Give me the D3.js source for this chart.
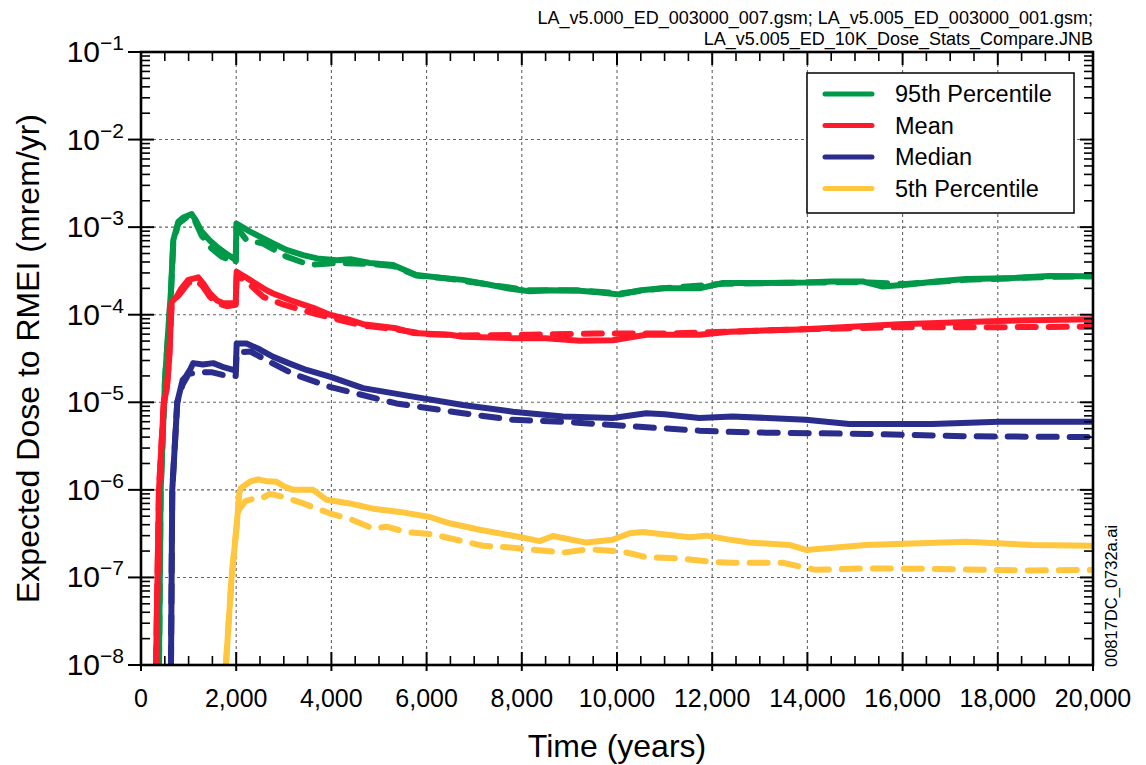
<!DOCTYPE html>
<html><head><meta charset="utf-8">
<script src="https://cdn.jsdelivr.net/npm/d3@7"></script>
<style>body{margin:0;background:#fff}svg{display:block}text{font-family:"Liberation Sans",Arial,sans-serif}</style>
</head><body><svg id="c" width="1146" height="765"></svg>
<script>
// ---- data: [year, dose (mrem/yr)] ----
const green95Solid=[[378,1e-8],[413,1e-6],[504,1.8e-5],[567,6e-5],[630,1.9e-4],[678,7.1e-4],[783,1.15e-3],[900,1.3e-3],[1064,1.41e-3],[1150,1.2e-3],[1274,8.9e-4],[1450,7e-4],[1589,6e-4],[1834,4.8e-4],[1990,4.2e-4],[2005,1.1e-3],[2290,8.9e-4],[2777,6.5e-4],[3057,5.5e-4],[3407,4.8e-4],[3700,4.4e-4],[4106,4.2e-4],[4400,4.3e-4],[4806,3.9e-4],[5295,3.7e-4],[5785,2.84e-4],[6415,2.6e-4],[6764,2.5e-4],[7324,2.2e-4],[7700,2.0e-4],[8164,1.85e-4],[8600,1.9e-4],[9213,1.88e-4],[9600,1.8e-4],[10052,1.7e-4],[10500,1.9e-4],[10961,2.0e-4],[11731,2.0e-4],[12220,2.3e-4],[13129,2.3e-4],[13969,2.33e-4],[14500,2.4e-4],[15158,2.4e-4],[15578,2.1e-4],[16068,2.2e-4],[16700,2.4e-4],[17328,2.55e-4],[18200,2.6e-4],[19077,2.77e-4],[20000,2.75e-4]];
const green95Dashed=[[378,1e-8],[413,1e-6],[504,1.8e-5],[567,5.5e-5],[630,1.8e-4],[678,6.5e-4],[783,1.1e-3],[1000,1.35e-3],[1100,1.3e-3],[1274,8e-4],[1483,5.7e-4],[1694,4.6e-4],[1834,4.3e-4],[1990,3.9e-4],[2005,1.0e-3],[2218,7.1e-4],[2568,6.5e-4],[3057,4.6e-4],[3547,3.7e-4],[4106,3.9e-4],[4806,3.8e-4],[5295,3.6e-4],[5785,2.8e-4],[6415,2.6e-4],[7324,2.2e-4],[8164,1.9e-4],[9213,1.9e-4],[10052,1.75e-4],[10961,2.0e-4],[12220,2.25e-4],[13969,2.33e-4],[15158,2.35e-4],[16068,2.25e-4],[17328,2.5e-4],[19077,2.7e-4],[20000,2.75e-4]];
const meanSolid=[[315,1e-8],[378,1e-6],[480,1e-5],[540,1.4e-5],[590,3e-5],[644,1.4e-4],[748,1.6e-4],[850,2.0e-4],[993,2.5e-4],[1203,2.67e-4],[1300,2.3e-4],[1448,1.75e-4],[1600,1.45e-4],[1727,1.35e-4],[1990,1.35e-4],[2010,3.1e-4],[2288,2.5e-4],[2638,1.9e-4],[2777,1.75e-4],[3127,1.47e-4],[3617,1.2e-4],[3966,1.0e-4],[4300,9e-5],[4666,7.8e-5],[5365,7.0e-5],[5714,6.2e-5],[6485,5.9e-5],[6764,5.6e-5],[7813,5.4e-5],[8500,5.4e-5],[9213,5.05e-5],[9913,5.1e-5],[10613,5.9e-5],[11731,5.9e-5],[12361,6.4e-5],[13829,6.8e-5],[15928,7.8e-5],[18027,8.5e-5],[20000,8.9e-5]];
const meanDashed=[[315,1e-8],[378,1e-6],[480,1e-5],[540,1.4e-5],[590,3e-5],[644,1.4e-4],[748,1.55e-4],[993,2.3e-4],[1150,2.5e-4],[1300,2.1e-4],[1448,1.6e-4],[1600,1.35e-4],[1800,1.25e-4],[1990,1.3e-4],[2010,2.8e-4],[2218,2.4e-4],[2568,1.6e-4],[3000,1.3e-4],[3617,1.04e-4],[4176,8.7e-5],[4666,7.5e-5],[5365,6.8e-5],[6000,6.0e-5],[6764,5.8e-5],[8163,5.9e-5],[9563,6.1e-5],[10961,6.1e-5],[12361,6.4e-5],[13829,6.8e-5],[15928,7.2e-5],[18000,7.2e-5],[20000,7.3e-5]];
const medianSolid=[[630,1e-8],[657,1e-6],[762,1e-5],[875,1.8e-5],[950,2.0e-5],[1028,2.34e-5],[1097,2.8e-5],[1300,2.7e-5],[1517,2.8e-5],[1750,2.5e-5],[1990,2.3e-5],[2010,4.7e-5],[2218,4.7e-5],[2500,4.0e-5],[2777,3.3e-5],[3100,2.8e-5],[3477,2.34e-5],[3966,1.96e-5],[4666,1.45e-5],[5714,1.16e-5],[6764,9.3e-6],[7813,7.8e-6],[8862,6.9e-6],[9913,6.6e-6],[10613,7.5e-6],[11000,7.3e-6],[11731,6.6e-6],[12430,6.9e-6],[13969,6.3e-6],[14879,5.65e-6],[16628,5.65e-6],[18027,6.0e-6],[20000,6.0e-6]];
const medianDashed=[[630,1e-8],[657,1e-6],[762,1e-5],[875,1.6e-5],[1000,2.1e-5],[1200,2.2e-5],[1500,2.2e-5],[1800,2.0e-5],[1990,2.0e-5],[2010,3.7e-5],[2300,3.8e-5],[2700,2.9e-5],[3200,2.1e-5],[3966,1.5e-5],[5365,9.7e-6],[6764,7.5e-6],[7813,6.3e-6],[8862,6.0e-6],[9913,5.5e-6],[10961,5.05e-6],[11731,4.74e-6],[12361,4.6e-6],[13129,4.5e-6],[15228,4.35e-6],[17328,4.1e-6],[20000,4.0e-6]];
const p5Solid=[[1784,1e-8],[1903,1e-7],[2008,3.8e-7],[2064,9.1e-7],[2100,1.05e-6],[2288,1.24e-6],[2463,1.32e-6],[2650,1.25e-6],[2848,1.24e-6],[3000,1.1e-6],[3197,1.0e-6],[3617,1.0e-6],[3897,7.7e-7],[4386,7.0e-7],[4876,6.1e-7],[5435,5.6e-7],[6065,4.9e-7],[6485,4.15e-7],[7114,3.5e-7],[7954,2.9e-7],[8374,2.6e-7],[8654,2.97e-7],[9353,2.5e-7],[9913,2.7e-7],[10263,3.2e-7],[10542,3.3e-7],[11528,2.87e-7],[11871,3.0e-7],[12361,2.7e-7],[12780,2.5e-7],[13620,2.35e-7],[13969,2.06e-7],[15228,2.35e-7],[17328,2.56e-7],[18727,2.35e-7],[20000,2.3e-7]];
const p5Dashed=[[1784,1e-8],[1903,1e-7],[2008,3.8e-7],[2064,6e-7],[2200,7.5e-7],[2400,8e-7],[2533,8.0e-7],[2708,9.0e-7],[3000,8.3e-7],[3407,7.0e-7],[3966,5.4e-7],[4456,4.5e-7],[4876,3.6e-7],[5155,3.8e-7],[5575,3.3e-7],[6134,3.1e-7],[6485,2.8e-7],[7184,2.3e-7],[7744,2.2e-7],[8163,2.1e-7],[8862,1.92e-7],[9423,2.1e-7],[10122,1.97e-7],[10613,1.7e-7],[11312,1.65e-7],[12011,1.5e-7],[12430,1.47e-7],[13479,1.47e-7],[14179,1.22e-7],[15228,1.27e-7],[16628,1.25e-7],[18727,1.2e-7],[20000,1.22e-7]];
const legendLabels=["95th Percentile","Mean","Median","5th Percentile"];
const xTicks=[0,2000,4000,6000,8000,10000,12000,14000,16000,18000,20000];
const yExponents=[-8,-7,-6,-5,-4,-3,-2,-1];
const headerLines=["LA_v5.000_ED_003000_007.gsm; LA_v5.005_ED_003000_001.gsm;","LA_v5.005_ED_10K_Dose_Stats_Compare.JNB"];
const sideLabel="00817DC_0732a.ai";

const colors=["#00994a","#ff1a2b","#2a2d8c","#ffc63e"];
const series=[
 {d:green95Solid,c:0,dash:false},{d:green95Dashed,c:0,dash:true},
 {d:meanSolid,c:1,dash:false},{d:meanDashed,c:1,dash:true},
 {d:medianSolid,c:2,dash:false},{d:medianDashed,c:2,dash:true},
 {d:p5Solid,c:3,dash:false},{d:p5Dashed,c:3,dash:true}];

const L=141,R=1093,T=52,B=665;
const svg=d3.select("#c");
const x=d3.scaleLinear().domain([0,20000]).range([L,R]);
const y=d3.scaleLog().domain([1e-8,1e-1]).range([B,T]);

// grid
const g=svg.append("g");
g.selectAll(".gx").data(xTicks.slice(1,-1)).enter().append("line")
 .attr("x1",d=>x(d)).attr("x2",d=>x(d)).attr("y1",T).attr("y2",B)
 .attr("stroke","#666").attr("stroke-width",1.1).attr("stroke-dasharray","3,3");
g.selectAll(".gy").data(yExponents.slice(1,-1)).enter().append("line")
 .attr("y1",d=>y(Math.pow(10,d))).attr("y2",d=>y(Math.pow(10,d))).attr("x1",L).attr("x2",R)
 .attr("stroke","#666").attr("stroke-width",1.1).attr("stroke-dasharray","3,3");

// lines
svg.append("clipPath").attr("id","clp").append("rect").attr("x",L).attr("y",T).attr("width",R-L).attr("height",B-T);
const line=d3.line().x(d=>x(d[0])).y(d=>y(d[1]));
const lg=svg.append("g").attr("clip-path","url(#clp)");
series.forEach(s=>{
 lg.append("path").attr("d",line(s.d)).attr("fill","none").attr("stroke",colors[s.c])
  .attr("stroke-width",6).attr("stroke-linejoin","round").attr("stroke-linecap","round")
  .attr("stroke-dasharray",s.dash?"18,13":null);
});

// axes ticks
const minorX=d3.range(0,20001,500).filter(v=>v%2000!==0);
const minorY=[];
for(let e=-8;e<-1;e++){for(let m=2;m<=9;m++)minorY.push(m*Math.pow(10,e));}
const ax=svg.append("g").attr("stroke","#000");
ax.selectAll(".mxb").data(minorX).enter().append("line").attr("x1",d=>x(d)).attr("x2",d=>x(d)).attr("y1",B).attr("y2",B-9).attr("stroke-width",1.6);
ax.selectAll(".mxt").data(minorX).enter().append("line").attr("x1",d=>x(d)).attr("x2",d=>x(d)).attr("y1",T).attr("y2",T+9).attr("stroke-width",1.6);
ax.selectAll(".Mxb").data(xTicks).enter().append("line").attr("x1",d=>x(d)).attr("x2",d=>x(d)).attr("y1",B+6).attr("y2",B-13).attr("stroke-width",2);
ax.selectAll(".Mxt").data(xTicks).enter().append("line").attr("x1",d=>x(d)).attr("x2",d=>x(d)).attr("y1",T).attr("y2",T+13).attr("stroke-width",2);
ax.selectAll(".myl").data(minorY).enter().append("line").attr("y1",d=>y(d)).attr("y2",d=>y(d)).attr("x1",L).attr("x2",L+9).attr("stroke-width",1.6);
ax.selectAll(".myr").data(minorY).enter().append("line").attr("y1",d=>y(d)).attr("y2",d=>y(d)).attr("x1",R).attr("x2",R-9).attr("stroke-width",1.6);
ax.selectAll(".Myl").data(yExponents).enter().append("line").attr("y1",d=>y(Math.pow(10,d))).attr("y2",d=>y(Math.pow(10,d))).attr("x1",L-13).attr("x2",L+13).attr("stroke-width",2);
ax.selectAll(".Myr").data(yExponents).enter().append("line").attr("y1",d=>y(Math.pow(10,d))).attr("y2",d=>y(Math.pow(10,d))).attr("x1",R).attr("x2",R-13).attr("stroke-width",2);
svg.append("rect").attr("x",L).attr("y",T).attr("width",R-L).attr("height",B-T).attr("fill","none").attr("stroke","#000").attr("stroke-width",2.6);

// tick labels
svg.selectAll(".xl").data(xTicks).enter().append("text").attr("x",d=>x(d)).attr("y",B+42)
 .attr("text-anchor","middle").attr("font-size",25).text(d3.format(","));
const yl=svg.selectAll(".yl").data(yExponents).enter().append("text").attr("x",L-17).attr("y",d=>y(Math.pow(10,d))+10)
 .attr("text-anchor","end").attr("font-size",30);
yl.append("tspan").text("10");
yl.append("tspan").attr("dy",-12).attr("font-size",21).text(d=>"\u2212"+Math.abs(d));

// titles
svg.append("text").attr("x",(L+R)/2).attr("y",757).attr("text-anchor","middle").attr("font-size",32).text("Time (years)");
svg.append("text").attr("transform",`translate(39,${(T+B)/2}) rotate(-90)`).attr("text-anchor","middle").attr("font-size",32).text("Expected Dose to RMEI (mrem/yr)");
svg.selectAll(".hd").data(headerLines).enter().append("text").attr("x",R).attr("y",(d,i)=>24+i*21)
 .attr("text-anchor","end").attr("font-size",18).text(d=>d);
svg.append("text").attr("transform",`translate(1117,667) rotate(-90)`).attr("font-size",16.5).text(sideLabel);

// legend
const lgx=807,lgy=73;
svg.append("rect").attr("x",lgx).attr("y",lgy).attr("width",267).attr("height",140).attr("fill","#fff").attr("stroke","#000").attr("stroke-width",1.5);
legendLabels.forEach((t,i)=>{
 const yy=lgy+21+i*31.5;
 svg.append("line").attr("x1",lgx+18).attr("x2",lgx+65).attr("y1",yy).attr("y2",yy).attr("stroke",colors[i]).attr("stroke-width",5).attr("stroke-linecap","round");
 svg.append("text").attr("x",lgx+88).attr("y",yy+8).attr("font-size",23.5).text(t);
});
</script></body></html>
